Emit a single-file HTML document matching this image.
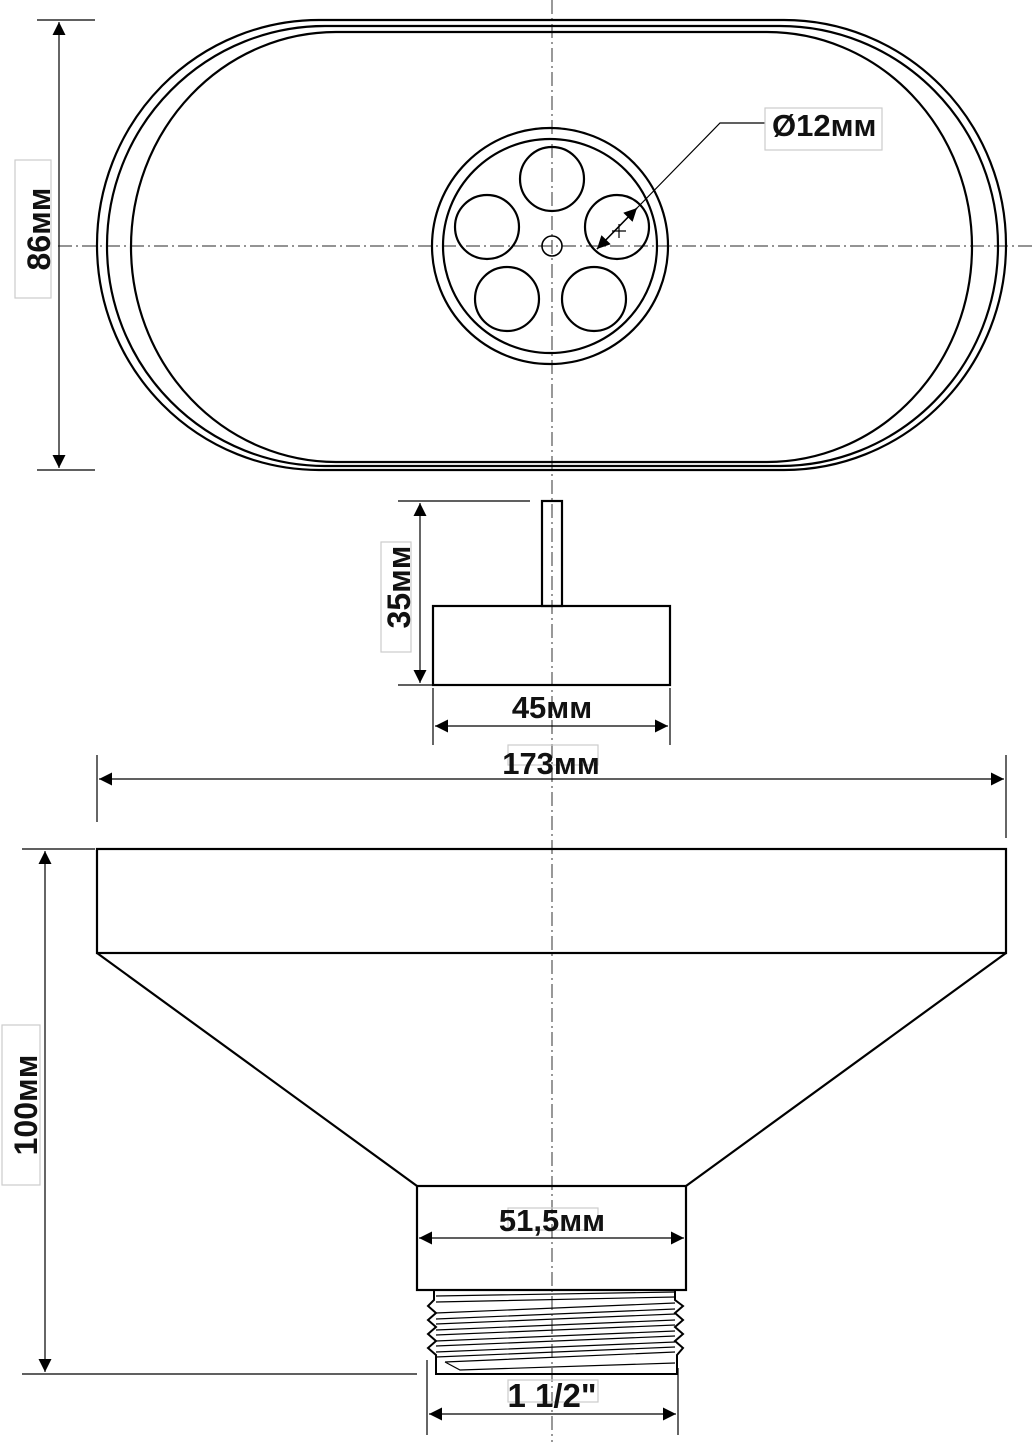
<!DOCTYPE html>
<html><head><meta charset="utf-8"><style>
html,body{margin:0;padding:0;background:#fff}
svg{display:block}
text{font-family:"Liberation Sans","DejaVu Sans",sans-serif;font-weight:bold;fill:#111}
</style></head><body>
<svg width="1036" height="1442" viewBox="0 0 1036 1442" xmlns="http://www.w3.org/2000/svg">
<defs>
<marker id="a" viewBox="0 0 10 10" refX="10" refY="5" markerWidth="18" markerHeight="13" markerUnits="userSpaceOnUse" orient="auto-start-reverse"><path d="M0,0L10,5L0,10z" fill="#000"/></marker>
</defs>
<g stroke="#555" stroke-width="1.2" stroke-dasharray="14,4,2,4" fill="none">
<line x1="552" y1="0" x2="552" y2="1442"/>
<line x1="58" y1="246" x2="1036" y2="246"/>
</g>
<g fill="none" stroke="#000" stroke-width="2.2">
<rect x="97" y="20" width="909" height="450" rx="222" ry="225"/>
<rect x="107" y="26" width="891" height="440" rx="218" ry="220"/>
<rect x="131" y="32" width="841" height="430" rx="205" ry="215"/>
<circle cx="550" cy="246" r="118"/>
<circle cx="550" cy="246" r="107"/>
<circle cx="552" cy="179" r="32"/>
<circle cx="617" cy="227" r="32"/>
<circle cx="487" cy="227" r="32"/>
<circle cx="507" cy="299" r="32"/>
<circle cx="594" cy="299" r="32"/>
<circle cx="552" cy="246" r="10" stroke-width="1.6"/>
<rect x="542" y="501" width="20" height="105"/>
<rect x="433" y="606" width="237" height="79"/>
<rect x="97" y="849" width="909" height="104"/>
<path d="M97,953L417,1186M1006,953L686,1186"/>
<rect x="417" y="1186" width="269" height="104"/>
<path d="M434,1290V1300L428,1306L436,1313L428,1320L436,1327L428,1334L436,1341L428,1348L436,1355V1374H677V1355L683,1348L675,1341L683,1334L675,1327L683,1320L675,1313L683,1306L675,1300V1290" stroke-width="2"/>
</g>
<g stroke="#000" stroke-width="1.2" fill="none">
<path d="M436,1296L675,1292M436,1302L675,1297M436,1313L675,1303M436,1319L675,1309M436,1324L675,1314M436,1330L675,1320M436,1335L675,1325M436,1341L675,1331M436,1346L675,1336M436,1352L675,1342M436,1357L675,1347M445,1362L675,1352M445,1362L460,1370L675,1363"/>
</g>
<g stroke="#000" stroke-width="1.2" fill="none">
<path d="M37,20H95M37,470H95"/>
<line x1="59" y1="22" x2="59" y2="468" marker-start="url(#a)" marker-end="url(#a)"/>
<path d="M597,249L720,123H765"/>
<line x1="597" y1="249" x2="637" y2="208" marker-start="url(#a)" marker-end="url(#a)" stroke-width="1.6"/>
<path d="M612,231L626,231M619,224L619,238" />
<path d="M398,501H530M398,685H433"/>
<line x1="420" y1="503" x2="420" y2="683" marker-start="url(#a)" marker-end="url(#a)"/>
<path d="M433,688V745M670,688V745"/>
<line x1="435" y1="726" x2="668" y2="726" marker-start="url(#a)" marker-end="url(#a)"/>
<path d="M97,755V822M1006,755V838"/>
<line x1="99" y1="779" x2="1004" y2="779" marker-start="url(#a)" marker-end="url(#a)"/>
<path d="M22,849H95M22,1374H417"/>
<line x1="45" y1="851" x2="45" y2="1372" marker-start="url(#a)" marker-end="url(#a)"/>
<line x1="419" y1="1238" x2="684" y2="1238" marker-start="url(#a)" marker-end="url(#a)"/>
<path d="M427,1360V1435M678,1368V1435"/>
<line x1="429" y1="1414" x2="676" y2="1414" marker-start="url(#a)" marker-end="url(#a)"/>
</g>
<g fill="none" stroke="#ccc" stroke-width="1.2">
<rect x="765" y="108" width="117" height="42"/>
<rect x="15" y="160" width="36" height="138"/>
<rect x="381" y="542" width="30" height="110"/>
<rect x="2" y="1025" width="38" height="160"/>
<rect x="508" y="1208" width="90" height="22"/>
<rect x="508" y="1380" width="90" height="22"/>
<rect x="508" y="745" width="90" height="20"/>
</g>
<text x="772" y="136" font-size="31">Ø12мм</text>
<text transform="translate(50,229) rotate(-90)" font-size="32" text-anchor="middle">86мм</text>
<text transform="translate(410,587) rotate(-90)" font-size="32" text-anchor="middle">35мм</text>
<text transform="translate(37,1105) rotate(-90)" font-size="32" text-anchor="middle">100мм</text>
<text x="552" y="718" font-size="31" text-anchor="middle">45мм</text>
<text x="551" y="774" font-size="31" text-anchor="middle">173мм</text>
<text x="552" y="1231" font-size="31" text-anchor="middle">51,5мм</text>
<text x="552" y="1407" font-size="33" text-anchor="middle">1 1/2"</text>
</svg>
</body></html>
